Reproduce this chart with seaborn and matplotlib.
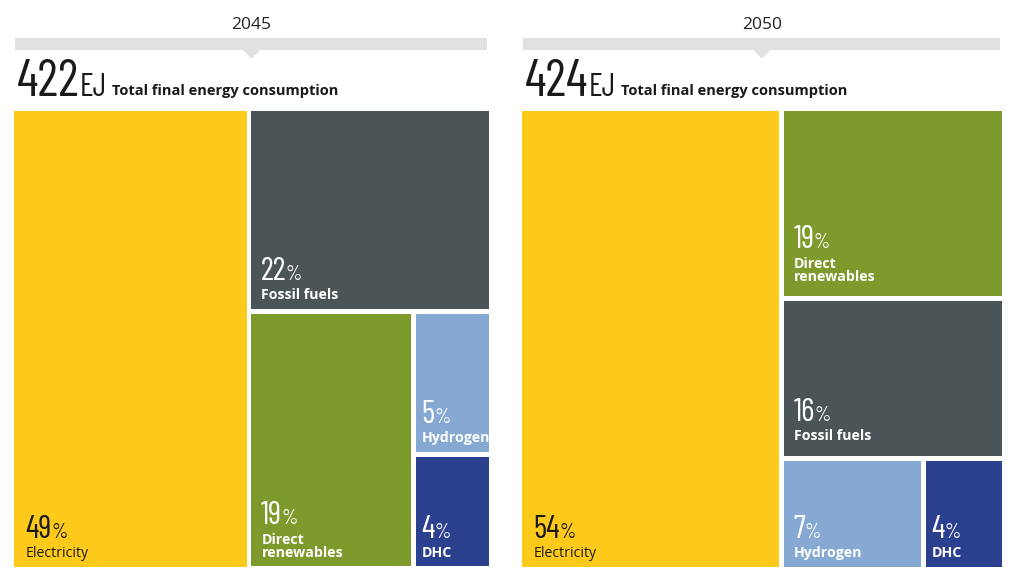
import numpy as np
import pandas as pd
import seaborn as sns
import matplotlib.pyplot as plt
from matplotlib.patches import Rectangle, Polygon

# data
years = ['2045', '2050']
totals_ej = [422, 424]
categories = ['Electricity', 'Fossil fuels', 'Direct renewables', 'Hydrogen', 'DHC']
share_2045 = [49, 22, 19, 5, 4]
share_2050 = [54, 16, 19, 7, 4]
label_text = ['Electricity', 'Fossil fuels', 'Direct\nrenewables', 'Hydrogen', 'DHC']

# nesting of the treemap (alternating column / row splits)
layout_2045 = ['Electricity', ['Fossil fuels', ['Direct renewables', ['Hydrogen', 'DHC']]]]
layout_2050 = ['Electricity', ['Direct renewables', 'Fossil fuels', ['Hydrogen', 'DHC']]]

df = pd.DataFrame({'category': categories * 2,
                   'label': label_text * 2,
                   'year': np.repeat(years, len(categories)),
                   'share': share_2045 + share_2050})

sns.set_theme(style='white')
plt.rcParams['font.family'] = ['DejaVu Sans']
colors = dict(zip(categories, sns.color_palette(['#FDC91A', '#4B5457', '#7F9A2C', '#86A9D4', '#2C4090'])))
text_col = {'Electricity': '#1a1a1a'}

NUM_FONT = ['Barlow Condensed', 'Roboto Condensed', 'DejaVu Sans']
LAB_FONT = ['Open Sans', 'DejaVu Sans']

# label distance from the cell bottom (px), as in the reference
bottom_pad = {('2050', 'Direct renewables'): 15, ('2050', 'Fossil fuels'): 16}


def node_total(node, vals):
    if isinstance(node, str):
        return vals[node]
    return sum(node_total(n, vals) for n in node)


def place(node, vals, x0, y0, x1, y1, across, out):
    if isinstance(node, str):
        out[node] = (x0, y0, x1, y1)
        return
    s = node_total(node, vals)
    pos = x0 if across else y0
    for child in node:
        f = node_total(child, vals) / s
        if across:
            w = (x1 - x0) * f
            place(child, vals, pos, y0, pos + w, y1, False, out)
            pos += w
        else:
            h = (y1 - y0) * f
            place(child, vals, x0, pos, x1, pos + h, True, out)
            pos += h


fig = plt.figure(figsize=(10.17, 5.82), dpi=100)
ax = fig.add_axes([0, 0, 1, 1])
ax.set_xlim(0, 1017)
ax.set_ylim(582, 0)
ax.axis('off')
renderer = fig.canvas.get_renderer()


def right_edge(t):
    bb = t.get_window_extent(renderer)
    return ax.transData.inverted().transform((bb.x1, bb.y0))[0]


panels = [(14, 489, layout_2045), (522, 1002, layout_2050)]
gap = 4.8
top, bottom = 111, 566.5

for (px0, px1, lay), yr, tot in zip(panels, years, totals_ej):
    sub = df[df.year == yr]
    vals = dict(zip(sub.category, sub.share))
    labs = dict(zip(sub.category, sub.label))

    # header: year, grey bar with pointer
    cx = (px0 + px1) / 2
    ax.text(cx, 29, yr, ha='center', va='baseline', fontsize=12.5, color='#222222',
            family=LAB_FONT)
    ax.add_patch(Rectangle((px0 + 1, 38), px1 - px0 - 3, 12, color='#E1E1E1', lw=0))
    ax.add_patch(Polygon([(cx - 9, 50), (cx + 9, 50), (cx, 58.5)], color='#E1E1E1', lw=0))

    t1 = ax.text(px0 + 3, 96.5, str(tot), fontsize=37, family=NUM_FONT,
                 color='#1a1a1a', va='baseline', ha='left')
    t2 = ax.text(right_edge(t1) + 0.5, 96.5, 'EJ', fontsize=23, family=NUM_FONT,
                 color='#1a1a1a', va='baseline', ha='left')
    ax.text(right_edge(t2) + 5, 95, 'Total final energy consumption', fontsize=10.5,
            fontweight='bold', family=LAB_FONT, color='#1a1a1a', va='baseline')

    rects = {}
    place(lay, vals, px0 - gap / 2, top - gap / 2, px1 + gap / 2, bottom + gap / 2, True, rects)
    for cat, (x0, y0, x1, y1) in rects.items():
        ax.add_patch(Rectangle((x0 + gap / 2, y0 + gap / 2), x1 - x0 - gap, y1 - y0 - gap,
                               color=colors[cat], lw=0))
        tc = text_col.get(cat, 'white')
        wt = 'normal' if cat == 'Electricity' else 'bold'
        lab = labs[cat]
        nlines = lab.count('\n') + 1
        width = x1 - x0 - gap
        pad = 6 if width < 78 else (12 if cat == 'Electricity' else 10)
        xl = x0 + gap / 2 + pad
        yb = y1 - gap / 2 - bottom_pad.get((yr, cat), 9.5)
        ax.text(xl, yb, lab, fontsize=10.2, fontweight=wt, color=tc,
                family=LAB_FONT, va='baseline', ha='left', linespacing=0.95)
        ynum = yb - 14 * (nlines - 1) - 19
        tn = ax.text(xl - 0.5, ynum, str(vals[cat]), fontsize=23, family=NUM_FONT,
                     color=tc, va='baseline', ha='left')
        ax.text(right_edge(tn) - 0.5, ynum, '%', fontsize=15, family=NUM_FONT,
                color=tc, va='baseline', ha='left')

fig.savefig('out.png', dpi=100)
